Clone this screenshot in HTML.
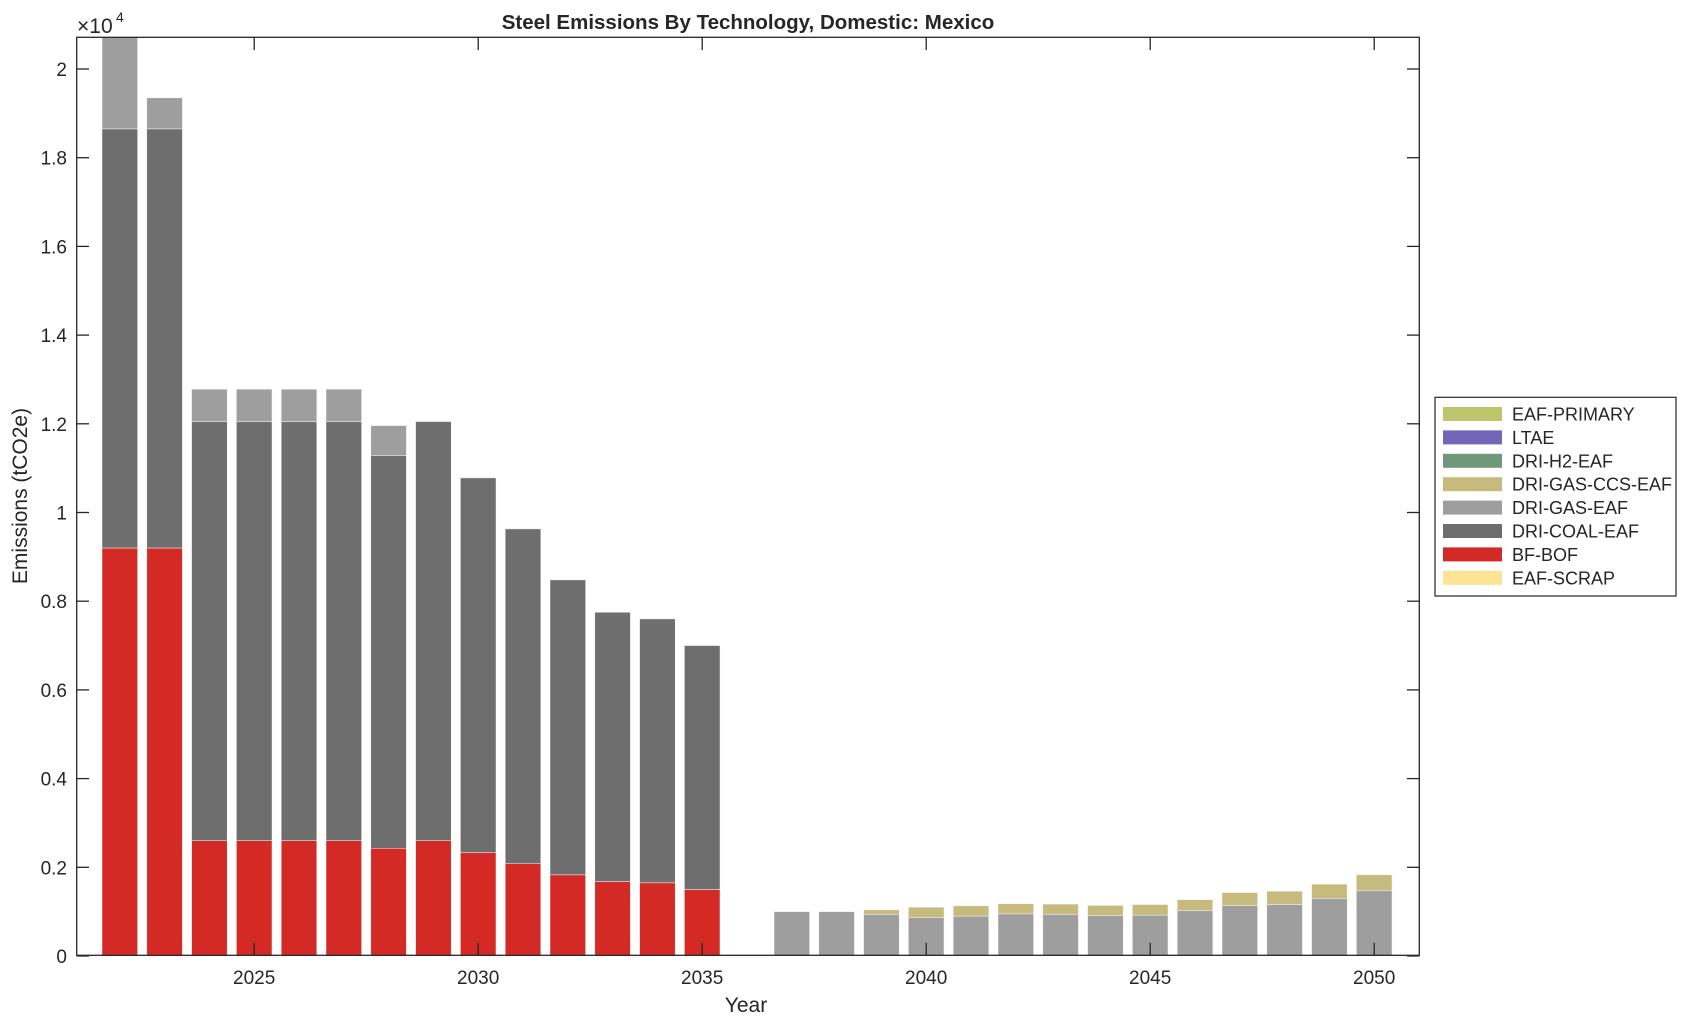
<!DOCTYPE html>
<html><head><meta charset="utf-8"><style>
html,body{margin:0;padding:0;background:#fff;}
svg text{font-family:"Liberation Sans",Arial,sans-serif;fill:#262626;}
</style></head><body>
<svg id="s" width="1696" height="1023" xmlns="http://www.w3.org/2000/svg">
<rect width="1696" height="1023" fill="#fff"/>
<g id="bars"></g>
<rect x="76.7" y="37.3" width="1342.6" height="918" fill="none" stroke="#262626" stroke-width="1.3"/>
<g id="ticks" stroke="#262626" stroke-width="1.3"></g>
<g id="lbl" font-size="19"></g>
<text x="748" y="29" font-size="20.5" font-weight="bold" text-anchor="middle">Steel Emissions By Technology, Domestic: Mexico</text>
<text x="746" y="1012" font-size="21" text-anchor="middle">Year</text>
<text transform="translate(27,496) rotate(-90)" font-size="21" text-anchor="middle">Emissions (tCO2e)</text>
<text x="77" y="33" font-size="21">×10</text><text x="116" y="22" font-size="14">4</text>
<rect x="1435" y="397.3" width="241" height="198.7" fill="#fff" stroke="#262626" stroke-width="1.2"/>
<g id="leg" font-size="18"></g>
</svg>
<script>
const NS="http://www.w3.org/2000/svg";
function el(p,t,a,txt){const e=document.createElementNS(NS,t);for(const k in a)e.setAttribute(k,a[k]);if(txt!==undefined)e.textContent=txt;document.getElementById(p).appendChild(e);}
const y0=956, py=443.5, x0=119.8, px=44.8, w=35.6;
const R="#d42a25",D="#6e6e6e",G="#9e9e9e",C="#c6bb7c";
const data=[
[2022,0.92,0.945,0.22,0],[2023,0.92,0.945,0.07,0],
[2024,0.26,0.945,0.073,0],[2025,0.26,0.945,0.073,0],[2026,0.26,0.945,0.073,0],[2027,0.26,0.945,0.073,0],
[2028,0.243,0.885,0.068,0],[2029,0.26,0.945,0,0],[2030,0.233,0.845,0,0],[2031,0.208,0.755,0,0],
[2032,0.183,0.665,0,0],[2033,0.168,0.607,0,0],[2034,0.165,0.595,0,0],[2035,0.15,0.55,0,0],
[2037,0,0,0.1,0],[2038,0,0,0.1,0],[2039,0,0,0.094,0.01],[2040,0,0,0.087,0.023],[2041,0,0,0.09,0.023],
[2042,0,0,0.095,0.023],[2043,0,0,0.094,0.023],[2044,0,0,0.091,0.023],[2045,0,0,0.092,0.024],
[2046,0,0,0.102,0.025],[2047,0,0,0.114,0.029],[2048,0,0,0.116,0.03],[2049,0,0,0.13,0.032],[2050,0,0,0.147,0.036]];
for(const d of data){const xc=x0+(d[0]-2022)*px;let b=0;const cols=[R,D,G,C];
 for(let i=0;i<4;i++){const v=d[i+1];if(v<=0)continue;let top=y0-(b+v)*py;const bot=y0-b*py;if(top<37.3)top=37.3;
  el("bars","rect",{x:xc-w/2,y:top,width:w,height:bot-top,fill:cols[i],stroke:"#f4f4f4","stroke-width":0.5});b+=v;}}
for(let i=0;i<=10;i++){const v=i*0.2,y=y0-v*py;
 el("ticks","line",{x1:76.7,x2:89,y1:y,y2:y});el("ticks","line",{x1:1419.3,x2:1407,y1:y,y2:y});
 el("lbl","text",{x:67,y:y+7,"text-anchor":"end"},i==0?"0":(i%5==0?String(v):v.toFixed(1)));}
for(const yr of [2025,2030,2035,2040,2045,2050]){const x=x0+(yr-2022)*px;
 el("ticks","line",{x1:x,x2:x,y1:955.3,y2:943});el("ticks","line",{x1:x,x2:x,y1:37.3,y2:50});
 el("lbl","text",{x:x,y:984,"text-anchor":"middle"},String(yr));}
const lg=[["EAF-PRIMARY","#bdc66a"],["LTAE","#7366b8"],["DRI-H2-EAF","#6f977a"],["DRI-GAS-CCS-EAF",C],["DRI-GAS-EAF",G],["DRI-COAL-EAF",D],["BF-BOF",R],["EAF-SCRAP","#fde394"]];
lg.forEach((l,i)=>{const yc=414+i*23.4;el("leg","rect",{x:1443,y:yc-7,width:59,height:14,fill:l[1]});
 el("leg","text",{x:1512,y:yc+6.5},l[0]);});
</script>
</body></html>
